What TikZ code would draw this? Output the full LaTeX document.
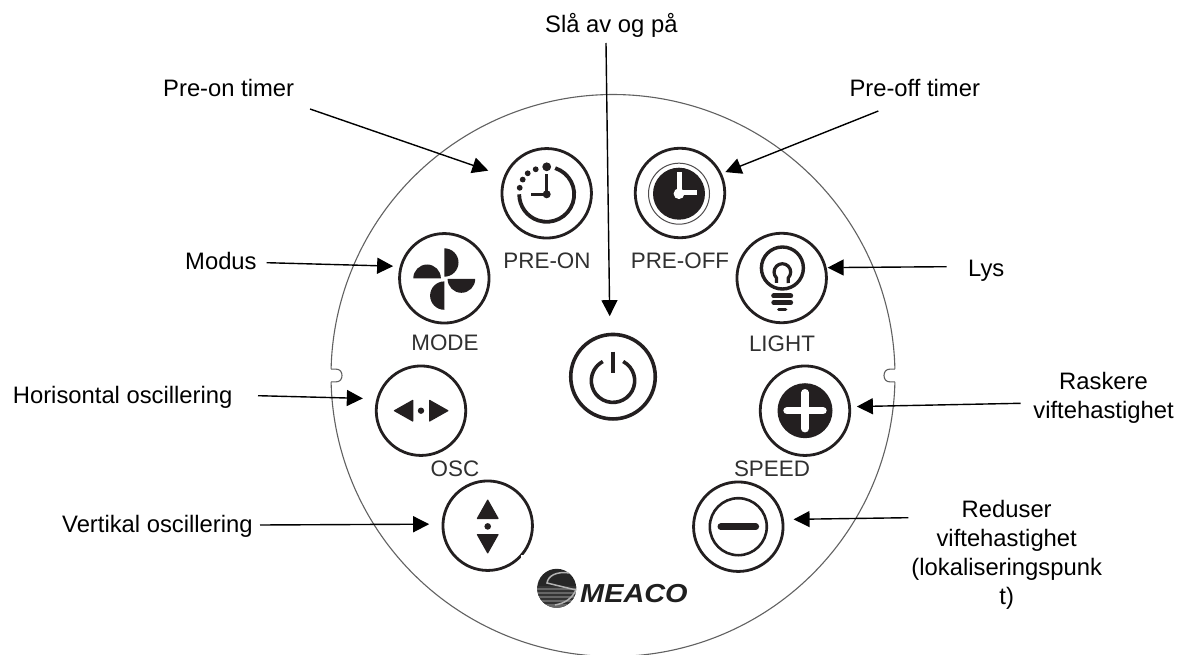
\documentclass[tikz,border=0pt]{standalone}
\usepackage{fontspec}
\setmainfont{Liberation Sans}
\usetikzlibrary{arrows.meta}
\definecolor{ink}{HTML}{231F20}
\definecolor{capt}{HTML}{303030}
\tikzset{
  lbl/.style={inner sep=0pt,anchor=base west,font=\fontsize{23.8}{28.8}\selectfont,text=black},
  lblc/.style={inner sep=0pt,align=center,font=\fontsize{23.8}{28.8}\selectfont,text=black},
  btncap/.style={inner sep=0pt,anchor=base,font=\fontsize{22.4}{26}\selectfont,text=capt},
  btn/.style={circle,draw=ink,line width=2.8pt,minimum size=89.5pt,inner sep=0pt},
  arr/.style={draw=black,line width=1.4pt,-{Triangle[length=16pt,width=16pt]}},
  shell/.style={draw=black!62,line width=1.1pt},
  stroke/.style={draw=ink,line width=#1},
  stroke/.default=3pt,
  blob/.style={fill=ink,draw=none},
}
\begin{document}
\begin{tikzpicture}[x=1pt,y=-1pt]
\useasboundingbox (0,0) rectangle (1179,655);
\fill[white] (0,0) rectangle (1179,655);
% housing outline with two notches
\draw[shell] plot[domain=1.3:178.7,samples=150] ({613+282*cos(\x)},{375.5+281*sin(\x)});
\draw[shell] plot[domain=181.3:358.7,samples=150] ({613+282*cos(\x)},{375.5+281*sin(\x)});
\draw[shell] (894.9,369.1) -- (890,369.1) .. controls (886,369.1) and (884,372) .. (884,375.5) .. controls (884,379) and (886,381.9) .. (890,381.9) -- (894.9,381.9);
\draw[shell] (331.1,369.1) -- (336,369.1) .. controls (340,369.1) and (342,372) .. (342,375.5) .. controls (342,379) and (340,381.9) .. (336,381.9) -- (331.1,381.9);

% buttons
\node[btn] (preon) at (546.7,193.3) {};
\node[btn] (preoff) at (680,193) {};
\node[btn] (mode) at (444.3,278.3) {};
\node[btn] (light) at (781.7,278) {};
\node[btn,line width=3.6pt,minimum size=84.5pt] (power) at (613,376.7) {};
\node[btn] (osc) at (421,410.7) {};
\node[btn] (vert) at (487.7,525.7) {};
\node[btn] (plus) at (805,410.7) {};
\node[btn] (minus) at (738.3,526.7) {};

% pre-on icon
\begin{scope}[shift={(546.7,194.3)}]
  \draw[stroke=3.8pt] (0,0) ++(72:27.5pt) arc[start angle=72,end angle=-180,radius=27.5pt];
  \fill[blob] (0,-27.5) circle[radius=4.4pt];
  \fill[blob] (-11,-25) circle[radius=2.9pt];
  \fill[blob] (-19,-21) circle[radius=2.9pt];
  \fill[blob] (-24,-14.7) circle[radius=2.9pt];
  \fill[blob] (-27,-6.5) circle[radius=2.9pt];
  \draw[stroke=3pt] (0,-20) -- (0,0) -- (-16,0);
  \fill[blob] (0,0) circle[radius=4pt];
\end{scope}

% pre-off icon
\begin{scope}[shift={(679,193.7)}]
  \draw[draw=ink!80,line width=1pt] (0,0) circle[radius=30.5pt];
  \fill[blob] (0,0) circle[radius=26pt];
  \draw[white,line width=5pt] (0,0) -- (0,-22);
  \draw[white,line width=4.4pt] (0,-1) -- (18,-1);
  \fill[white] (0,0) circle[radius=5.4pt];
\end{scope}

% mode fan icon
\begin{scope}[shift={(444.3,278.3)}]
  \fill[blob] (0,-30) arc[start angle=90,end angle=-90,radius=14.2pt] -- cycle;
  \fill[blob] (-31,0) arc[start angle=180,end angle=0,radius=13.8pt] -- cycle;
  \fill[blob] (0,31.5) arc[start angle=270,end angle=90,radius=14.2pt] -- cycle;
  \fill[blob] (3.3,.7) arc[start angle=180,end angle=360,radius=13.8pt] -- cycle;
\end{scope}

% light icon
\begin{scope}[shift={(781.7,278)}]
  \draw[stroke=3.4pt] (.7,-10) circle[radius=21pt];
  \draw[stroke=3.2pt] (-5.2,5) -- (-5.2,-.1) arc[start angle=225,end angle=-45,radius=8.3pt] -- (6.6,5);
  \draw[stroke=5pt,line cap=round] (-8,18) -- (9,18);
  \draw[stroke=4.8pt,line cap=round] (-8,24.5) -- (9,24.5);
  \draw[stroke=3.2pt,line cap=round] (-3,31.7) -- (4,31.7);
\end{scope}

% power icon
\begin{scope}[shift={(613,380.7)}]
  \draw[stroke=3.6pt] (0,0) ++(62:21.7pt) arc[start angle=62,end angle=-242,radius=21.7pt];
  \draw[stroke=4pt] (0,-29) -- (0,-7.5);
\end{scope}

% osc icon
\begin{scope}[shift={(421,410.7)}]
  \fill[blob,rounded corners=.8pt] (-27.7,0) -- (-7.7,-11.3) -- (-7.7,11.3) -- cycle;
  \fill[blob,rounded corners=.8pt] (28,0) -- (8,-11.3) -- (8,11.3) -- cycle;
  \fill[blob] (0,0) circle[radius=3.2pt];
\end{scope}

% vertical osc icon
\begin{scope}[shift={(487.7,525.7)}]
  \fill[blob,rounded corners=.8pt] (0,-26.7) -- (-11.3,-6.7) -- (11.3,-6.7) -- cycle;
  \fill[blob,rounded corners=.8pt] (0,28.3) -- (-11.3,8.3) -- (11.3,8.3) -- cycle;
  \fill[blob] (0,.7) circle[radius=3.3pt];
\end{scope}
\fill[white] (520.5,554.5) rectangle (523.5,558.5);

% plus icon
\begin{scope}[shift={(805,410.7)}]
  \fill[blob] (0,0) circle[radius=27.5pt];
  \draw[white,line width=7.4pt,line cap=round] (-18,0) -- (18,0);
  \draw[white,line width=7.4pt,line cap=round] (0,-18) -- (0,18);
\end{scope}

% minus icon
\begin{scope}[shift={(738.3,526.7)}]
  \draw[stroke=2.6pt] (0,0) circle[radius=28.5pt];
  \draw[stroke=6.6pt,line cap=round] (-17.5,0) -- (17.5,0);
\end{scope}

% logo
\begin{scope}
  \clip (556.7,588.3) circle[radius=19.5pt];
  \fill[black!85] (535,565) rectangle (580,612);
  \fill[black!60] (535,586) rectangle (580,612);
  \foreach \yy in {586,590,594,598,602} {\fill[black!80] (535,\yy) rectangle (580,\yy+1.6);}
  \draw[white!70!black,line width=1.5pt] (570,573) .. controls (556,571) and (548,576) .. (547,583) -- (576,590);
  \draw[white!70!black,line width=1.5pt] (576,590) .. controls (572,598) and (566,603) .. (555,605);
\end{scope}
\node[inner sep=0pt,anchor=base west,font=\fontsize{26}{30}\bfseries\itshape\selectfont,text=black!88,xscale=1.11] (logo) at (580,602.7) {MEACO};

% button captions
\node[btncap] (cPreOn) at (547,268.3) {PRE-ON};
\node[btncap] (cPreOff) at (680,268.3) {PRE-OFF};
\node[btncap] (cMode) at (445,351) {MODE};
\node[btncap] (cLight) at (782,351.5) {LIGHT};
\node[btncap] (cOsc) at (455,476) {OSC};
\node[btncap] (cSpeed) at (772,476.5) {SPEED};

% outer labels
\node[lbl] (tPower) at (545,33) {Slå av og på};
\node[lbl] (tPreOn) at (163,96.7) {Pre-on timer};
\node[lbl] (tPreOff) at (849.3,96.7) {Pre-off timer};
\node[lbl] (tMode) at (185,270) {Modus};
\node[lbl] (tLight) at (968,276.7) {Lys};
\node[lbl] (tOsc) at (12.7,403) {Horisontal oscillering};
\node[lbl] (tVert) at (62,532.7) {Vertikal oscillering};
\node[lblc] (tPlus) at (1103.5,397.5) {Raskere\\viftehastighet};
\node[lblc] (tMinus) at (1006.7,555) {Reduser\\viftehastighet\\(lokaliseringspunk\\t)};

% connector free ends
\coordinate (sPower) at (606,43);
\coordinate (sPreOn) at (310,109);
\coordinate (sPreOff) at (878.3,111);
\coordinate (sMode) at (266.7,262.7);
\coordinate (sLight) at (946.7,266.7);
\coordinate (sOsc) at (258,395.7);
\coordinate (sVert) at (260,525);
\coordinate (sPlus) at (1020.7,403.3);
\coordinate (sMinus) at (908.3,517.7);

% connectors
\draw[arr,shorten >=16.6pt] (sPower) -- (power.94.4);
\draw[arr,shorten >=16.5pt] (sPreOn) -- (preon.158.5);
\draw[arr,shorten >=3.8pt] (sPreOff) -- (preoff.25.3);
\draw[arr,shorten >=6.6pt] (sMode) -- (mode.165.7);
\draw[arr,shorten >=1pt] (sLight) -- (light.13.9);
\draw[arr,shorten >=13.6pt] (sOsc) -- (osc.165.4);
\draw[arr,shorten >=12.4pt] (sVert) -- (vert.178.3);
\draw[arr,shorten >=5.9pt] (sPlus) -- (plus.5.5);
\draw[arr,shorten >=9.7pt] (sMinus) -- (minus.9);
\end{tikzpicture}
\end{document}
